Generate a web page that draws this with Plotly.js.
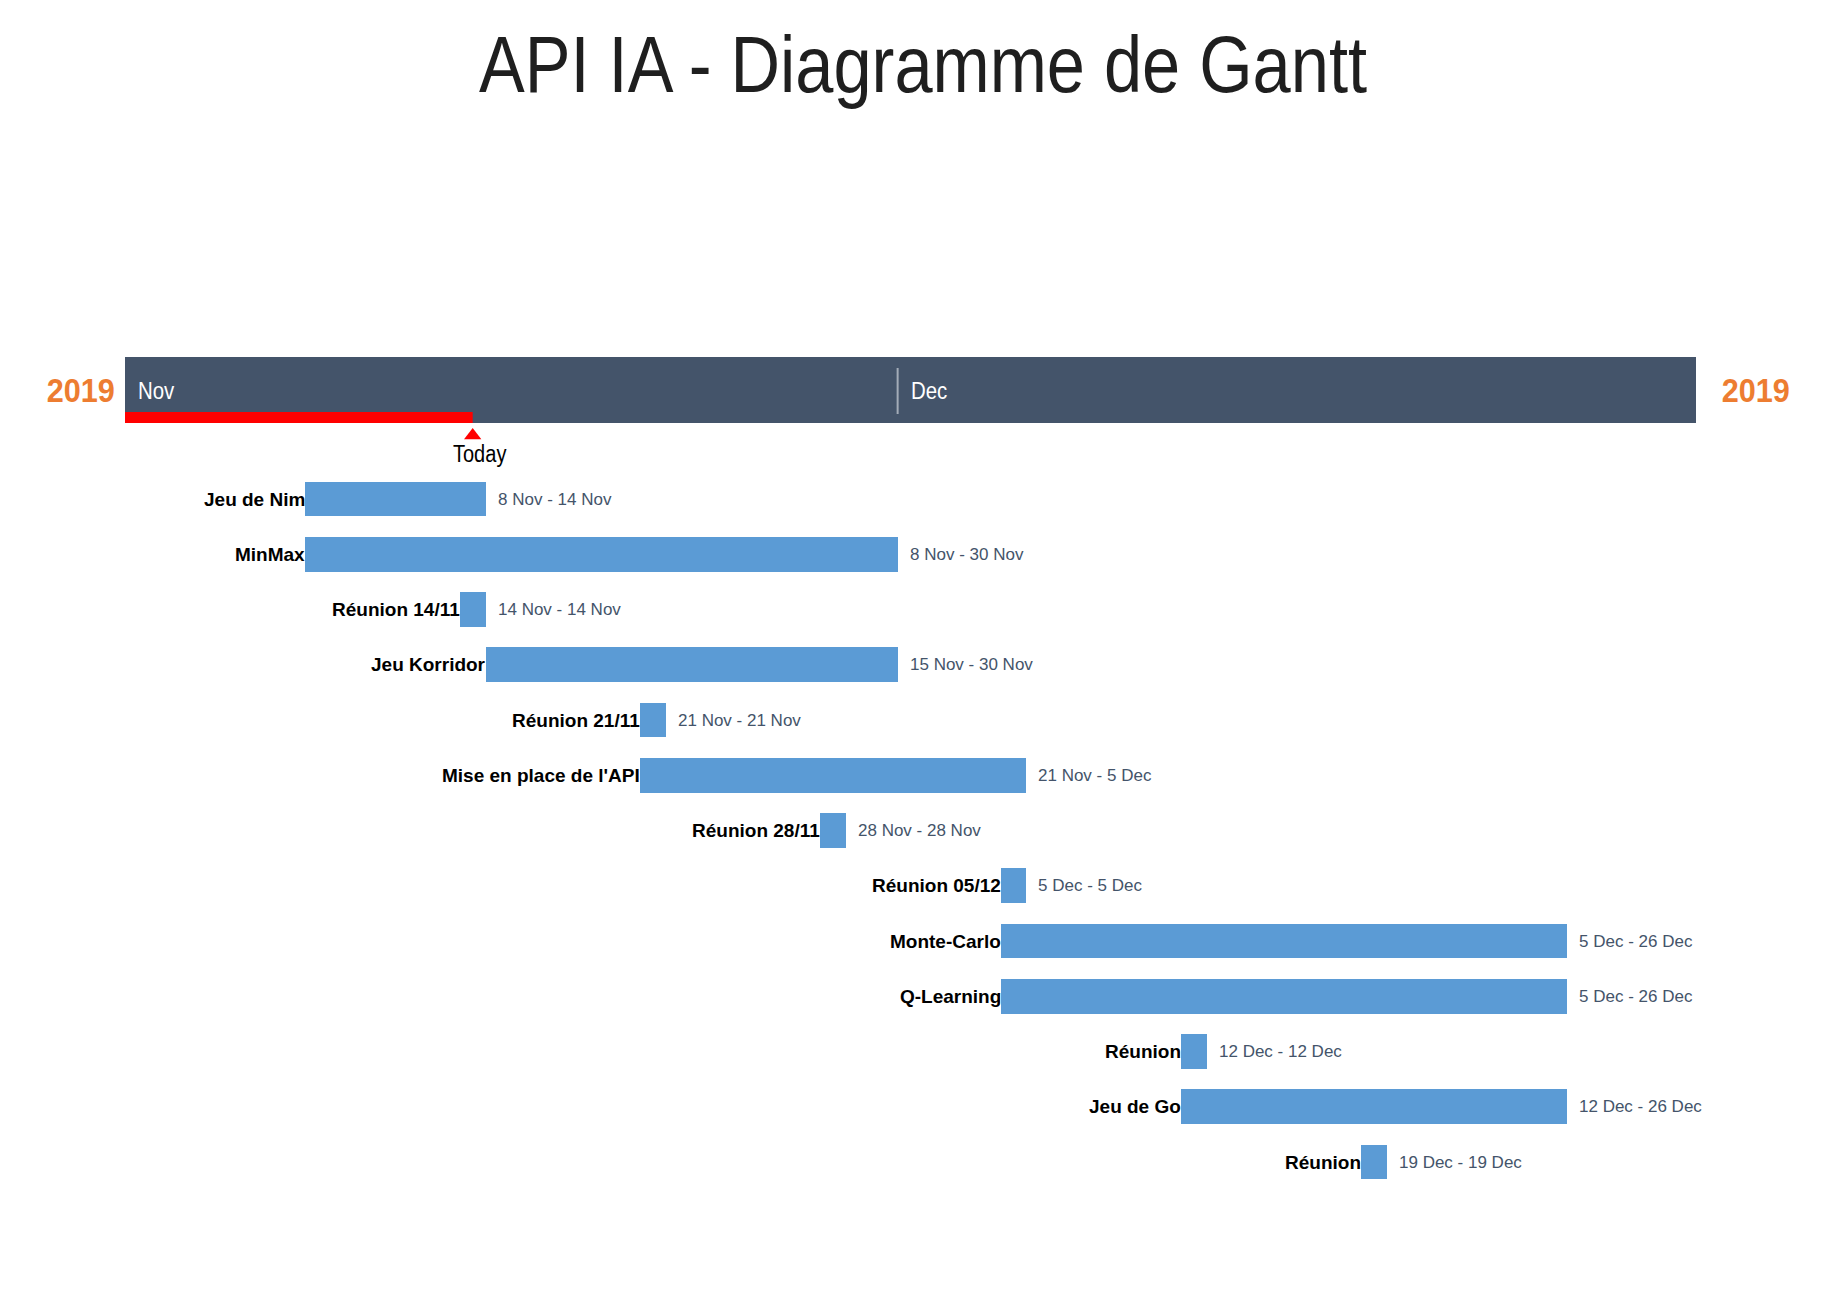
<!DOCTYPE html>
<html>
<head>
<meta charset="utf-8">
<script src="https://cdn.plot.ly/plotly-3.0.1.min.js"></script>
<style>html,body{margin:0;padding:0;background:#fff;}#chart{width:1821px;height:1299px;}</style>
</head>
<body>
<div id="chart"></div>
<script>
// ---- data ----
const chartTitle = "API IA - Diagramme de Gantt";
const taskNames = ["Jeu de Nim", "MinMax", "Réunion 14/11", "Jeu Korridor", "Réunion 21/11",
  "Mise en place de l'API", "Réunion 28/11", "Réunion 05/12", "Monte-Carlo", "Q-Learning",
  "Réunion", "Jeu de Go", "Réunion"];
const taskStarts = ["2019-11-08", "2019-11-08", "2019-11-14", "2019-11-15", "2019-11-21",
  "2019-11-21", "2019-11-28", "2019-12-05", "2019-12-05", "2019-12-05",
  "2019-12-12", "2019-12-12", "2019-12-19"];
const taskEnds = ["2019-11-14", "2019-11-30", "2019-11-14", "2019-11-30", "2019-11-21",
  "2019-12-05", "2019-11-28", "2019-12-05", "2019-12-26", "2019-12-26",
  "2019-12-12", "2019-12-26", "2019-12-19"];
const timelineStart = "2019-11-01";
const timelineEnd = "2020-01-01";
const monthStarts = ["2019-11-01", "2019-12-01"];
const monthLabels = ["Nov", "Dec"];
const yearLabel = "2019";
const todayDate = "2019-11-14 12:00";
const todayLabel = "Today";
const monthNames = ["Jan","Feb","Mar","Apr","May","Jun","Jul","Aug","Sep","Oct","Nov","Dec"];

// ---- derived ----
const DAY = 86400000;
const toMs = s => Date.parse(s + "T00:00:00Z");
const durations = taskStarts.map((s, i) => toMs(taskEnds[i]) + DAY - toMs(s));
const barEnds = taskEnds.map(e => new Date(toMs(e) + DAY).toISOString().slice(0, 10));
const fmt = s => { const d = new Date(toMs(s)); return d.getUTCDate() + " " + monthNames[d.getUTCMonth()]; };
const rangeText = taskStarts.map((s, i) => fmt(s) + " - " + fmt(taskEnds[i]));
const rows = taskNames.map((_, i) => i);

const SANS = '"Liberation Sans", Arial, sans-serif';
const H = 1299;
const py = px => 1 - px / H;
const ROW0 = 499, ROWH = 55.25;

const bars = {
  type: "bar", orientation: "h",
  y: rows, x: durations, base: taskStarts,
  width: 0.633,
  marker: { color: "#5B9BD5", line: { width: 0 } },
  hoverinfo: "skip", showlegend: false
};

const todayMarker = {
  type: "scatter", mode: "markers",
  x: [todayDate], y: [(435.5 - ROW0) / ROWH],
  marker: { symbol: "triangle-up", size: 15, color: "#FF0000", line: { width: 0 } },
  hoverinfo: "skip", showlegend: false
};

const shapes = [
  { type: "rect", xref: "x", yref: "paper", x0: timelineStart, x1: timelineEnd,
    y0: py(423), y1: py(357), fillcolor: "#44546A", line: { width: 0 }, layer: "below" },
  { type: "rect", xref: "x", yref: "paper", x0: timelineStart, x1: todayDate,
    y0: py(423), y1: py(412), fillcolor: "#FF0000", line: { width: 0 } }
];
monthStarts.slice(1).forEach(m => shapes.push({
  type: "line", xref: "x", yref: "paper", x0: m, x1: m, y0: py(414), y1: py(368),
  line: { color: "#A3ACB8", width: 2 }
}));

// narrow (condensed) text: annotation index -> horizontal squeeze factor
const narrow = {};
const annotations = [];
monthStarts.forEach((m, i) => {
  narrow[annotations.length] = 0.85;
  annotations.push({
    x: m, y: py(391), xref: "x", yref: "paper", text: monthLabels[i], showarrow: false,
    xanchor: "left", yanchor: "middle", align: "left", xshift: 11,
    font: { family: SANS, size: 24, color: "#FFFFFF" }
  });
});
[-0.0283, 1.0382].forEach(xp => {
  narrow[annotations.length] = 0.9;
  annotations.push({ x: xp, y: py(390), xref: "paper", yref: "paper", text: yearLabel,
    showarrow: false, xanchor: "center", yanchor: "middle",
    font: { family: SANS, size: 34, color: "#ED7D31", weight: "bold" } });
});
narrow[annotations.length] = 0.87;
annotations.push({ x: todayDate, y: py(454), xref: "x", yref: "paper", text: todayLabel,
  showarrow: false, xanchor: "center", yanchor: "middle", xshift: 7,
  font: { family: SANS, size: 23, color: "#000000" } });
taskNames.forEach((n, i) => {
  annotations.push({ x: taskStarts[i], y: i, xref: "x", yref: "y", text: n, showarrow: false,
    xanchor: "right", yanchor: "middle", xshift: 2,
    font: { family: SANS, size: 19, color: "#000000", weight: "bold" } });
  annotations.push({ x: barEnds[i], y: i, xref: "x", yref: "y", text: rangeText[i], showarrow: false,
    xanchor: "left", yanchor: "middle", xshift: 10,
    font: { family: SANS, size: 17, color: "#44546A" } });
});

const layout = {
  width: 1821, height: 1299,
  margin: { l: 125, r: 125, t: 0, b: 0, pad: 0 },
  paper_bgcolor: "#FFFFFF", plot_bgcolor: "#FFFFFF",
  title: { text: chartTitle, x: 923 / 1821, xanchor: "center", y: py(64), yanchor: "middle",
    xref: "container", yref: "container",
    font: { family: SANS, size: 79, color: "#1F1F1F" } },
  xaxis: { type: "date", range: [timelineStart, timelineEnd], visible: false, fixedrange: true },
  yaxis: { range: [(H - ROW0) / ROWH, -ROW0 / ROWH], visible: false, fixedrange: true },
  shapes: shapes, annotations: annotations,
  bargap: 0, showlegend: false
};

function squeeze(el, f) {
  if (!el) return;
  const w = el.getComputedTextLength();
  el.setAttribute("textLength", (w * f).toFixed(1));
  el.setAttribute("lengthAdjust", "spacingAndGlyphs");
}

Plotly.newPlot("chart", [bars, todayMarker], layout, { displayModeBar: false, staticPlot: true })
  .then(gd => {
    squeeze(gd.querySelector(".gtitle"), 0.868);
    gd.querySelectorAll("g.annotation").forEach(g => {
      const idx = g.getAttribute("data-index");
      if (idx !== null && narrow[idx] !== undefined) {
        squeeze(g.querySelector("text.annotation-text"), narrow[idx]);
      }
    });
  });
</script>
</body>
</html>
